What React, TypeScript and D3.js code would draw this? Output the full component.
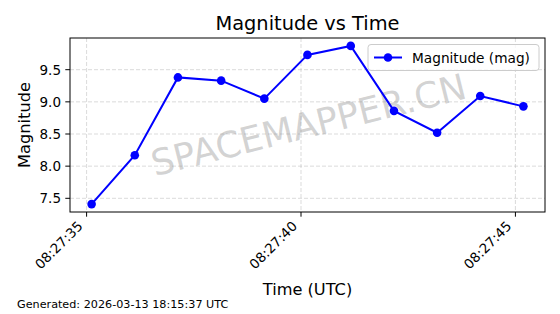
import React from "react";
import * as d3 from "d3";

const timesMs: number[] = [35117, 36124, 37130, 38138, 39145, 40150, 41160, 42168, 43175, 44180, 45187];
const magnitudes: number[] = [7.41, 8.17, 9.38, 9.33, 9.05, 9.73, 9.87, 8.86, 8.52, 9.09, 8.93];
const yTicks: number[] = [7.5, 8.0, 8.5, 9.0, 9.5];
const xTickSeconds: number[] = [35, 40, 45];
const titleText = "Magnitude vs Time";
const xLabel = "Time (UTC)";
const yLabel = "Magnitude";
const legendLabel = "Magnitude (mag)";
const footer = "Generated: 2026-03-13 18:15:37 UTC";
const watermark = "SPACEMAPPER.CN";

const base = Date.UTC(2026, 2, 13, 8, 27, 0, 0);
const toDate = (ms: number) => new Date(base + ms);

export default function App() {
  const W = 560, H = 314;
  const L = 70, R = 545, T = 38, B = 212;
  const FONT = "DejaVu Sans, sans-serif";

  const tExt = d3.extent(timesMs) as [number, number];
  const tPad = (tExt[1] - tExt[0]) * 0.05;
  const x = d3.scaleUtc().domain([toDate(tExt[0] - tPad), toDate(tExt[1] + tPad)]).range([L, R]);
  const yExt = d3.extent(magnitudes) as [number, number];
  const yPad = (yExt[1] - yExt[0]) * 0.05;
  const y = d3.scaleLinear().domain([yExt[0] - yPad, yExt[1] + yPad]).range([B, T]);

  const pts = timesMs.map((t, i) => [x(toDate(t)), y(magnitudes[i])] as [number, number]);
  const line = d3.line()(pts) || "";
  const fmt = d3.utcFormat("%H:%M:%S");
  const fmtY = d3.format(".1f");
  const xTicks = xTickSeconds.map((s) => toDate(s * 1000));

  const cx = (L + R) / 2, cy = (T + B) / 2;

  return (
    <svg width={W} height={H} style={{ position: "absolute", left: 0, top: 0, background: "#fff" }} fontFamily={FONT}>
      <rect x={0} y={0} width={W} height={H} fill="#fff" />
      {/* grid */}
      {yTicks.map((v) => (
        <line key={"gy" + v} x1={L} x2={R} y1={y(v)} y2={y(v)} stroke="#b0b0b0" strokeOpacity={0.6} strokeWidth={0.8} strokeDasharray="4,2" />
      ))}
      {xTicks.map((d, i) => (
        <line key={"gx" + i} x1={x(d)} x2={x(d)} y1={T} y2={B} stroke="#b0b0b0" strokeOpacity={0.6} strokeWidth={0.8} strokeDasharray="4,2" />
      ))}
      {/* watermark */}
      <text x={cx + 1} y={cy} textAnchor="middle" dominantBaseline="central" fontSize={36} fill="#808080" fillOpacity={0.35}
        transform={`rotate(-14 ${cx + 1} ${cy})`}>{watermark}</text>
      {/* series */}
      <path d={line} fill="none" stroke="#0000ff" strokeWidth={2} />
      {pts.map((p, i) => (
        <circle key={"p" + i} cx={p[0]} cy={p[1]} r={4.3} fill="#0000ff" />
      ))}
      {/* axes frame */}
      <rect x={L} y={T} width={R - L} height={B - T} fill="none" stroke="#000" strokeWidth={1} />
      {/* y ticks */}
      {yTicks.map((v) => (
        <g key={"yt" + v}>
          <line x1={L - 4.7} x2={L} y1={y(v)} y2={y(v)} stroke="#000" strokeWidth={1} />
          <text x={L - 9} y={y(v)} textAnchor="end" dominantBaseline="central" fontSize={13.5} fill="#000">{fmtY(v)}</text>
        </g>
      ))}
      {/* x ticks */}
      {xTicks.map((d, i) => {
        const tx = x(d);
        const ex = tx - 3, ey = 227;
        return (
          <g key={"xt" + i}>
            <line x1={tx} x2={tx} y1={B} y2={B + 4.7} stroke="#000" strokeWidth={1} />
            <text x={ex} y={ey} textAnchor="end" fontSize={13.5} fill="#000" transform={`rotate(-45 ${ex} ${ey})`}>{fmt(d)}</text>
          </g>
        );
      })}
      {/* legend */}
      <rect x={368} y={44.5} width={171} height={26} rx={3} fill="#fff" fillOpacity={0.8} stroke="#cccccc" strokeWidth={1} />
      <line x1={374} x2={402} y1={57.5} y2={57.5} stroke="#0000ff" strokeWidth={2} />
      <circle cx={388} cy={57.5} r={4.3} fill="#0000ff" />
      <text x={412} y={57.5} dominantBaseline="central" fontSize={13.7} fill="#000">{legendLabel}</text>
      {/* labels */}
      <text x={cx} y={30} textAnchor="middle" fontSize={19.4} fill="#000">{titleText}</text>
      <text x={cx} y={295} textAnchor="middle" fontSize={16.2} fill="#000">{xLabel}</text>
      <text x={30} y={cy} textAnchor="middle" fontSize={16.2} fill="#000" transform={`rotate(-90 30 ${cy})`}>{yLabel}</text>
      <text x={17} y={308} fontSize={11.2} fill="#000">{footer}</text>
    </svg>
  );
}
